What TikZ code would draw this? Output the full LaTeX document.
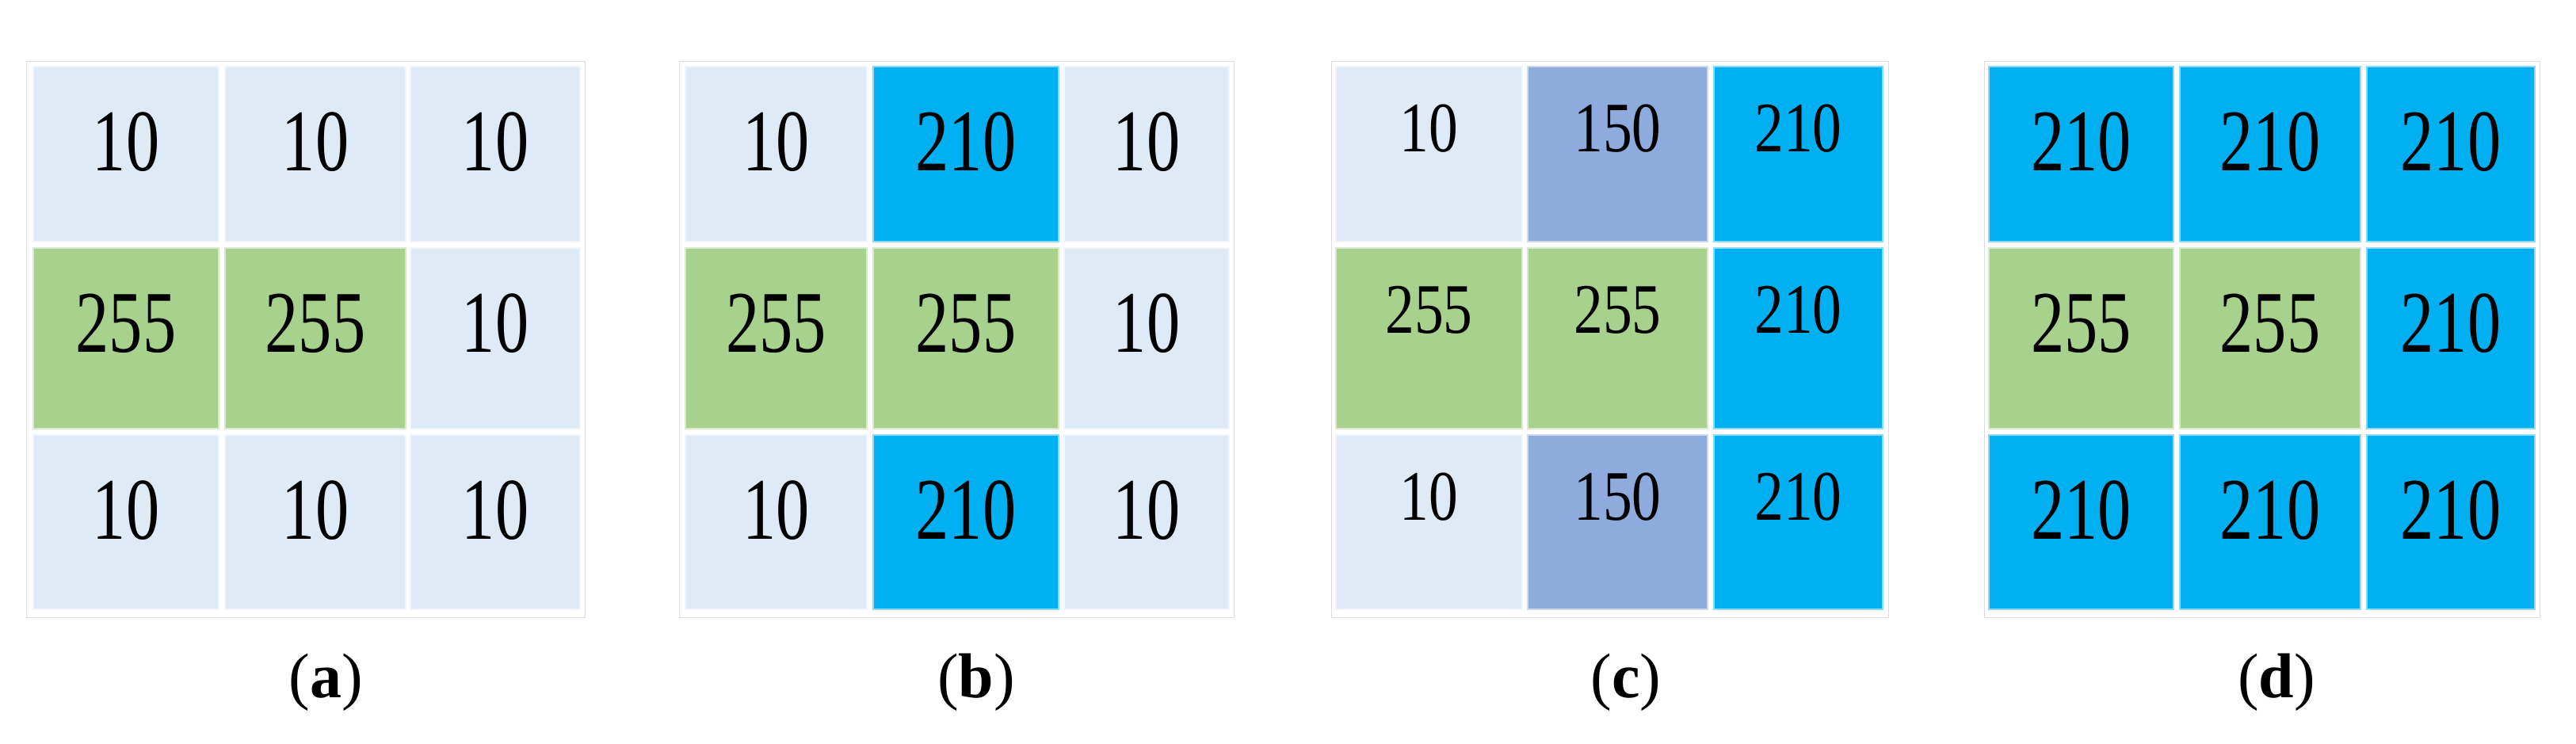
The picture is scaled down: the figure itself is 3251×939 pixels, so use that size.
\documentclass[tikz,border=0pt]{standalone}
\usepackage{fontspec}
\setmainfont{Liberation Serif}
\definecolor{lb}{HTML}{DEEBF7}
\definecolor{gr}{HTML}{A9D18E}
\definecolor{cy}{HTML}{00B0F0}
\definecolor{pu}{HTML}{8FAADC}
\tikzset{
 numA/.style={anchor=base, inner sep=0pt, font=\fontsize{27.75}{30}\selectfont},
 numC/.style={anchor=base, inner sep=0pt, font=\fontsize{22.4}{25}\selectfont},
 gridframe/.style={draw=black!13, line width=0.25pt},
 lab/.style={anchor=base, inner sep=0pt, font=\fontsize{20}{24}\selectfont},
}
% name x1 x2 y1 y2 color text
\newcommand\cellA[7]{%
  \fill[#6, draw=#6!45!white, line width=0.5pt] (#2,#4) rectangle (#3,#5);
  \node[numA] (#1) at ({(#2+#3)/2},{#4+132}) {\scalebox{0.76}[1]{#7}};
}
\newcommand\cellC[7]{%
  \fill[#6, draw=#6!45!white, line width=0.5pt] (#2,#4) rectangle (#3,#5);
  \node[numC] (#1) at ({(#2+#3)/2},{#4+108}) {\scalebox{0.82}[1]{#7}};
}
\begin{document}
\begin{tikzpicture}[x=0.25pt,y=-0.25pt]
\useasboundingbox (0,0) rectangle (3251,939);
\fill[white] (0,0) rectangle (3251,939);
% frames
\draw[gridframe] (33,78) rectangle (738,779);
\draw[gridframe] (857,78) rectangle (1557,779);
\draw[gridframe] (1680,78) rectangle (2383,779);
\draw[gridframe] (2504,78) rectangle (3205,779);
% (a)
\cellA{a11}{42}{276}{84}{305}{lb}{10}
\cellA{a12}{284}{512}{84}{305}{lb}{10}
\cellA{a13}{518}{732}{84}{305}{lb}{10}
\cellA{a21}{42}{276}{313}{541}{gr}{255}
\cellA{a22}{284}{512}{313}{541}{gr}{255}
\cellA{a23}{518}{732}{313}{541}{lb}{10}
\cellA{a31}{42}{276}{549}{769}{lb}{10}
\cellA{a32}{284}{512}{549}{769}{lb}{10}
\cellA{a33}{518}{732}{549}{769}{lb}{10}
% (b)
\cellA{b11}{865}{1094}{84}{305}{lb}{10}
\cellA{b12}{1102}{1336}{84}{305}{cy}{210}
\cellA{b13}{1343}{1551}{84}{305}{lb}{10}
\cellA{b21}{865}{1094}{313}{541}{gr}{255}
\cellA{b22}{1102}{1336}{313}{541}{gr}{255}
\cellA{b23}{1343}{1551}{313}{541}{lb}{10}
\cellA{b31}{865}{1094}{549}{769}{lb}{10}
\cellA{b32}{1102}{1336}{549}{769}{cy}{210}
\cellA{b33}{1343}{1551}{549}{769}{lb}{10}
% (c)
\cellC{c11}{1686}{1921}{84}{305}{lb}{10}
\cellC{c12}{1928}{2155}{84}{305}{pu}{150}
\cellC{c13}{2163}{2376}{84}{305}{cy}{210}
\cellC{c21}{1686}{1921}{313}{541}{gr}{255}
\cellC{c22}{1928}{2155}{313}{541}{gr}{255}
\cellC{c23}{2163}{2376}{313}{541}{cy}{210}
\cellC{c31}{1686}{1921}{549}{769}{lb}{10}
\cellC{c32}{1928}{2155}{549}{769}{pu}{150}
\cellC{c33}{2163}{2376}{549}{769}{cy}{210}
% (d)
\cellA{d11}{2510}{2743}{84}{305}{cy}{210}
\cellA{d12}{2751}{2979}{84}{305}{cy}{210}
\cellA{d13}{2987}{3199}{84}{305}{cy}{210}
\cellA{d21}{2510}{2743}{313}{541}{gr}{255}
\cellA{d22}{2751}{2979}{313}{541}{gr}{255}
\cellA{d23}{2987}{3199}{313}{541}{cy}{210}
\cellA{d31}{2510}{2743}{549}{769}{cy}{210}
\cellA{d32}{2751}{2979}{549}{769}{cy}{210}
\cellA{d33}{2987}{3199}{549}{769}{cy}{210}
% labels
\node[lab] (la) at (411,880) {(\textbf{a})};
\node[lab] (lb) at (1232,880) {(\textbf{b})};
\node[lab] (lc) at (2052,880) {(\textbf{c})};
\node[lab] (ld) at (2873,880) {(\textbf{d})};
\end{tikzpicture}
\end{document}
